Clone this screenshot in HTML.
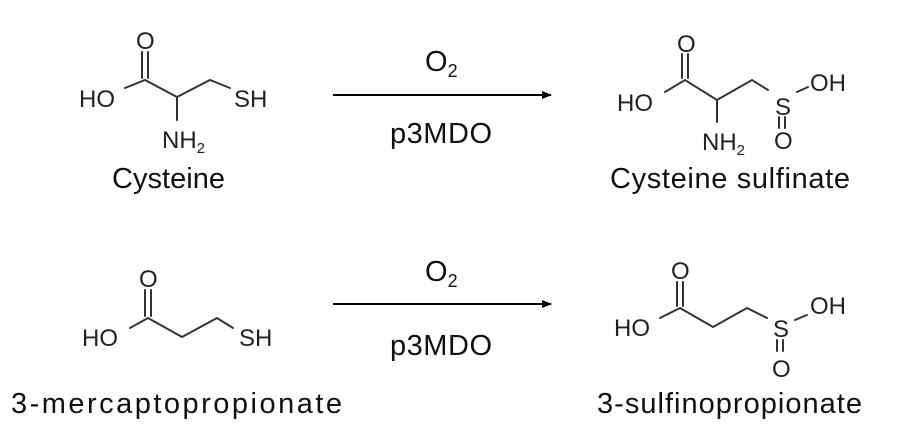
<!DOCTYPE html>
<html><head><meta charset="utf-8"><style>
html,body{margin:0;padding:0;background:#fff;}
svg{display:block;}
.c{font-family:"Liberation Sans",Arial,sans-serif;font-size:24px;fill:#222;}
.s{font-size:15px;}
.l{font-family:"Liberation Sans",Arial,sans-serif;font-size:29px;fill:#111;}
</style></head><body>
<svg width="921" height="448" viewBox="0 0 921 448" xmlns="http://www.w3.org/2000/svg">
<defs><marker id="a" markerWidth="10" markerHeight="8" refX="9" refY="4" orient="auto" markerUnits="userSpaceOnUse"><path d="M0,0 L10,4 L0,8 Z" fill="#000"/></marker></defs>
<g stroke="#333" stroke-width="2" fill="none" stroke-linecap="round">
<path d="M125,88 L145,80 L177,97 L210,80 L230,88"/>
<path d="M177,97 L177,120"/>
<path d="M142,78 L142,52 M148,78 L148,52"/>
<path d="M665,92 L685,80 L717,100 L752,80 L768,90"/>
<path d="M717,100 L717,122"/>
<path d="M682,78 L682,54 M688,78 L688,54"/>
<path d="M797,92 L808,87"/>
<path d="M779,117 L779,128 M785,117 L785,128"/>
<path d="M130,328 L148,318 L182,337 L217,318 L233,328"/>
<path d="M145,316 L145,290 M151,316 L151,290"/>
<path d="M660,318 L680,308 L713,327 L747,308 L767,318"/>
<path d="M677,306 L677,282 M683,306 L683,282"/>
<path d="M795,320 L807,315"/>
<path d="M777,340 L777,351 M783,340 L783,351"/>
</g>
<g stroke="#000" stroke-width="2">
<line x1="333" y1="95" x2="551" y2="95" marker-end="url(#a)"/>
<line x1="333" y1="304" x2="551" y2="304" marker-end="url(#a)"/>
</g>
<g class="c">
<text x="79" y="107">HO</text>
<text x="136" y="49">O</text>
<text x="234" y="107">SH</text>
<text x="162" y="148">NH<tspan class="s" dy="5">2</tspan></text>

<text x="617" y="111">HO</text>
<text x="677" y="52">O</text>
<text x="702" y="150">NH<tspan class="s" dy="5">2</tspan></text>
<text x="775" y="115">S</text>
<text x="810" y="91">OH</text>
<text x="774" y="149">O</text>

<text x="82" y="346">HO</text>
<text x="139" y="287">O</text>
<text x="239" y="346">SH</text>

<text x="614" y="336">HO</text>
<text x="671" y="279">O</text>
<text x="773" y="337">S</text>
<text x="810" y="314">OH</text>
<text x="772" y="377">O</text>
</g>
<g class="l">
<text x="425" y="71">O<tspan font-size="18" dy="6">2</tspan></text>
<text x="390" y="143" textLength="102">p3MDO</text>
<text x="425" y="281">O<tspan font-size="18" dy="6">2</tspan></text>
<text x="390" y="355" textLength="102">p3MDO</text>
<text x="112" y="188" textLength="113">Cysteine</text>
<text x="610" y="188" textLength="240">Cysteine sulfinate</text>
<text x="11" y="413" textLength="331">3-mercaptopropionate</text>
<text x="597" y="413" textLength="265">3-sulfinopropionate</text>
</g>
</svg>
</body></html>
